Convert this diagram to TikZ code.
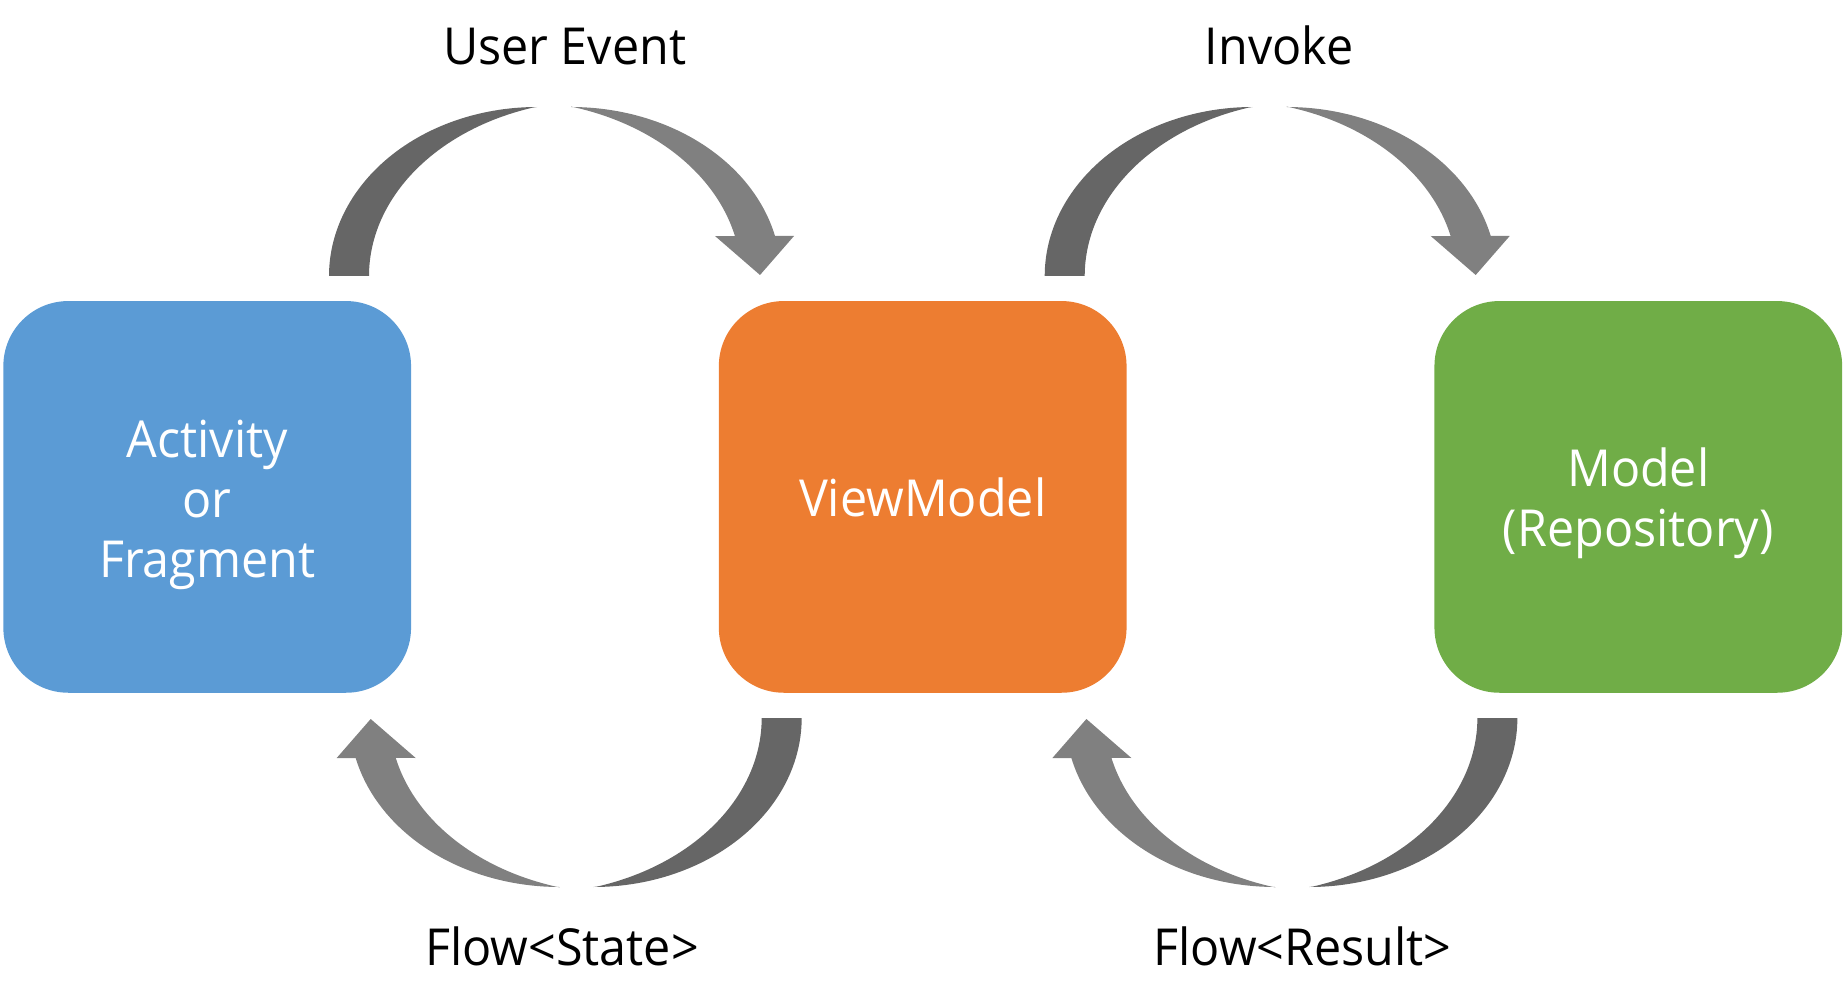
\documentclass[tikz,border=0pt]{standalone}
\usepackage{fontspec}
\setmainfont{Open Sans}[FakeStretch=0.95]
\definecolor{boxblue}{HTML}{5B9BD5}
\definecolor{boxorange}{HTML}{ED7D31}
\definecolor{boxgreen}{HTML}{70AD47}
\definecolor{arcdark}{HTML}{666666}
\definecolor{arclight}{HTML}{808080}
\tikzset{
  block/.style={rounded corners=65pt, minimum width=407.7pt, minimum height=391.7pt,
    inner sep=0pt},
  btext/.style={inner sep=0pt, text=white, align=center, font=\fontsize{51}{60}\selectfont},
  lbl/.style={anchor=base, font=\fontsize{51}{60}\selectfont, text=black, inner sep=0pt},
  arrowpair/.pic={
    \fill[arcdark] plot[domain=180:270,samples=60,variable=\t] ({537+208*cos(\t)},{276+169*sin(\t)})
      -- plot[domain=253.1:180,samples=60,variable=\t] ({600+231*cos(\t)},{276+176*sin(\t)}) -- cycle;
    \fill[arclight] plot[domain=270:346.3,samples=60,variable=\t] ({571+210*cos(\t)},{276+169*sin(\t)})
      -- (794,236) -- (760,275) -- (715,236)
      -- plot[domain=346.9:285.7,samples=60,variable=\t] ({508+233*cos(\t)},{276+176*sin(\t)}) -- cycle;
  }
}
\begin{document}
\begin{tikzpicture}[x=1pt,y=-1pt]
\useasboundingbox (0,0) rectangle (1845,1008);
% boxes
\node[block, fill=boxblue] (view) at (207.2,496.9) {};
\node[block, fill=boxorange] (vm) at (922.7,496.9) {};
\node[block, fill=boxgreen] (model) at (1638.3,496.9) {};
\node[btext] (viewtxt) at ([yshift=-8pt]view.center) {Activity\\or\\Fragment};
\node[btext] (vmtxt) at ([yshift=0pt]vm.center) {ViewModel};
\node[btext] (modeltxt) at ([yshift=-6pt]model.center) {Model\\(Repository)};
% curved arrows
\pic at (0,0) {arrowpair};
\pic[shift={(715.7,0)}] at (0,0) {arrowpair};
\pic[rotate around={180:(565.35,497)}] at (0,0) {arrowpair};
\pic[shift={(715.7,0)}, rotate around={180:(565.35,497)}] at (0,0) {arrowpair};
% labels
\node[lbl] (ue) at (564.6,65) {User Event};
\node[lbl] (inv) at (1279,65) {Invoke};
\node[lbl] (fs) at (562,965) {Flow<State>};
\node[lbl] (fr) at (1302.5,965) {Flow<Result>};
\end{tikzpicture}
\end{document}
